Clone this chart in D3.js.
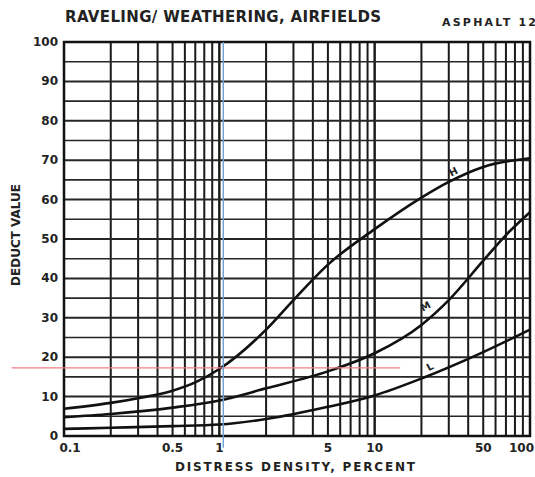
<!DOCTYPE html>
<html>
<head>
<meta charset="utf-8">
<script src="https://cdn.jsdelivr.net/npm/d3@7"></script>
<style>
  body { margin: 0; background: #fff; }
  text { font-family: "DejaVu Sans", sans-serif; font-weight: bold; fill: #222; }
</style>
</head>
<body>
<div id="chart"></div>
<script>
// Curve data (distress density %, deduct value)
const densityH = [0.1, 0.2, 0.3, 0.5, 0.7, 1, 2, 3, 5, 10, 20, 30, 50, 100]
const deductH  = [6.9, 8.4, 9.6, 11.5, 13.6, 17, 27, 34.5, 43.5, 52.5, 60.5, 64.5, 68.3, 70.5]
const densityM = [0.1, 0.2, 0.5, 1, 2, 5, 10, 20, 30, 50, 70, 100]
const deductM  = [4.8, 5.6, 7.2, 9, 12.1, 16.4, 21, 28.2, 34.5, 44.5, 51, 56.8]
const densityL = [0.1, 0.2, 0.5, 1, 2, 5, 10, 20, 50, 100]
const deductL  = [1.8, 2.1, 2.5, 2.9, 4.3, 7.4, 10.3, 14.6, 21.3, 27]

const curveNames = ["H", "M", "L"]
const labelAt = [31, 20.5, 21.9]      // density where the letter sits

const xTickLabels = [0.1, 0.5, 1, 5, 10, 50, 100]
const yTickLabels = [0, 10, 20, 30, 40, 50, 60, 70, 80, 90, 100]

// annotation lines
const redDeduct = 17.3
const redFrom = 0.046
const redTo = 14.6
const blueDensity = 1.06

const margin = { top: 42, right: 5, bottom: 41, left: 64 }
const width = 535 - margin.left - margin.right
const height = 477 - margin.top - margin.bottom

const svg = d3.select("#chart").append("svg")
    .attr("width", 535)
    .attr("height", 477)
  .append("g")
    .attr("transform", "translate(" + margin.left + "," + margin.top + ")")

const x = d3.scaleLog().domain([0.1, 100]).range([0, width])
const y = d3.scaleLinear().domain([0, 100]).range([height, 0])

// log grid: 1..9 in each decade
const vLines = []
;[0.1, 1, 10].forEach(dec => {
  for (let k = 1; k <= 10; k++) vLines.push(dec * k)
})
svg.selectAll(".vgrid")
  .data(vLines)
  .join("line")
    .attr("x1", d => x(d)).attr("x2", d => x(d))
    .attr("y1", 0).attr("y2", height)
    .attr("stroke", "#1a1a1a")
    .attr("stroke-width", 2)

svg.selectAll(".hgrid")
  .data(d3.range(0, 101, 5))
  .join("line")
    .attr("x1", 0).attr("x2", width)
    .attr("y1", d => y(d)).attr("y2", d => y(d))
    .attr("stroke", "#262626")
    .attr("stroke-width", d => d % 10 === 0 ? 2 : 1.6)

svg.append("rect")
  .attr("width", width).attr("height", height)
  .attr("fill", "none").attr("stroke", "#111").attr("stroke-width", 2.5)

// curves
const line = d3.line()
  .x(d => x(d[0]))
  .y(d => y(d[1]))
  .curve(d3.curveMonotoneX)

const series = [d3.zip(densityH, deductH), d3.zip(densityM, deductM), d3.zip(densityL, deductL)]
svg.selectAll(".curve")
  .data(series)
  .join("path")
    .attr("d", line)
    .attr("fill", "none")
    .attr("stroke", "#111")
    .attr("stroke-width", 2.6)

// curve letters, sitting just above each curve
const labelLift = [6, 14, 6]
series.forEach((s, i) => {
  const dx = labelAt[i]
  const dy = d3.scaleLog().domain(s.map(p => p[0])).range(s.map(p => p[1]))(dx)
  svg.append("text")
    .attr("transform", "translate(" + (x(dx) + 4) + "," + (y(dy) - labelLift[i]) + ") rotate(-28)")
    .attr("font-size", 10)
    .attr("text-anchor", "middle")
    .text(curveNames[i])
})

// annotation lines
svg.append("line")
  .attr("x1", x(redFrom)).attr("x2", x(redTo))
  .attr("y1", y(redDeduct)).attr("y2", y(redDeduct))
  .attr("stroke", "#f07c86").attr("stroke-width", 1.4)

svg.append("line")
  .attr("x1", x(blueDensity)).attr("x2", x(blueDensity))
  .attr("y1", y(100)).attr("y2", y(-3))
  .attr("stroke", "#6f9fd0").attr("stroke-width", 1.4)

// tick labels
svg.selectAll(".ylab")
  .data(yTickLabels)
  .join("text")
    .attr("x", -6)
    .attr("y", d => y(d) + 4)
    .attr("text-anchor", "end")
    .attr("font-size", 12)
    .text(d => d)

svg.selectAll(".xlab")
  .data(xTickLabels)
  .join("text")
    .attr("x", d => d === 100 ? width + 4 : x(d) + (d === 0.1 ? 6 : 0))
    .attr("y", height + 16)
    .attr("text-anchor", d => d === 100 ? "end" : "middle")
    .attr("font-size", 12)
    .text(d => d)

// axis titles
svg.append("text")
  .attr("transform", "translate(-44," + (height / 2 - 4) + ") rotate(-90)")
  .attr("text-anchor", "middle")
  .attr("font-size", 12)
  .text("DEDUCT VALUE")

svg.append("text")
  .attr("x", 231)
  .attr("y", height + 35)
  .attr("text-anchor", "middle")
  .attr("font-size", 12)
  .attr("textLength", 240)
  .text("DISTRESS DENSITY, PERCENT")

svg.append("text")
  .attr("x", 1)
  .attr("y", -20)
  .attr("font-size", 15)
  .attr("textLength", 316)
  .text("RAVELING/ WEATHERING, AIRFIELDS")

svg.append("text")
  .attr("x", 378)
  .attr("y", -16)
  .attr("font-size", 11)
  .attr("textLength", 94)
  .text("ASPHALT 12")
</script>
</body>
</html>
